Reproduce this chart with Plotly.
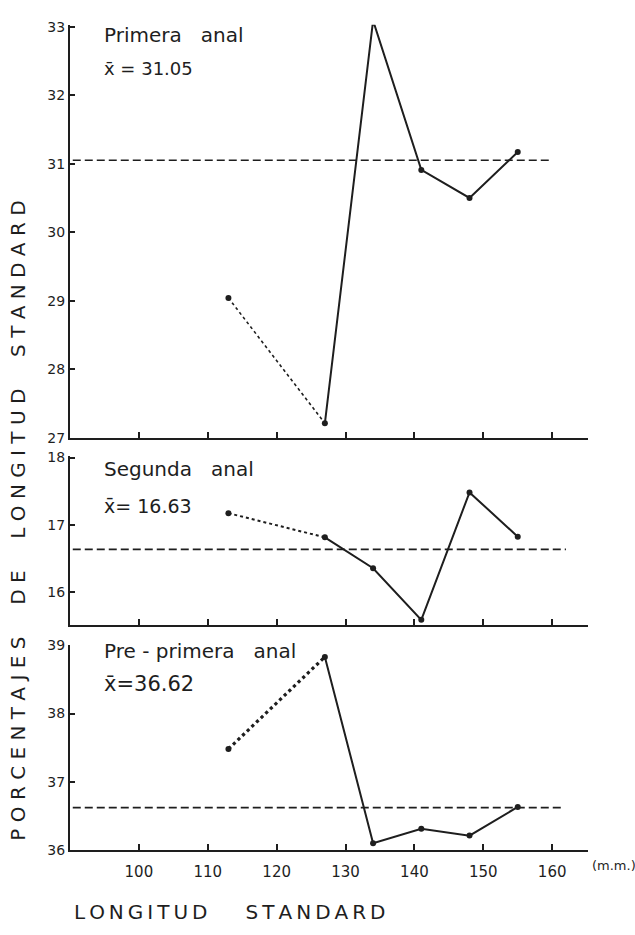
import plotly.graph_objects as go

# Longitud standard (mm) de cada clase de talla
talla = [113, 127, 134, 141, 148, 155]

# Porcentajes de longitud standard por posición de la aleta
primera_anal = [29.04, 27.21, 33.09, 30.91, 30.50, 31.17]
segunda_anal = [17.17, 16.81, 16.35, 15.58, 17.48, 16.82]
pre_primera_anal = [37.48, 38.83, 36.10, 36.31, 36.21, 36.63]

medias = [31.05, 16.63, 36.62]
titulos = ["Primera   anal", "Segunda   anal", "Pre - primera   anal"]
textos_media = ["x̄ = 31.05", "x̄= 16.63", "x̄=36.62"]

ticks_x = [100, 110, 120, 130, 140, 150, 160]
ticks_y = [[27, 28, 29, 30, 31, 32, 33], [16, 17, 18], [36, 37, 38, 39]]

W, H = 635, 935
FONT = "DejaVu Sans"
INK = "#1e1e1e"

# panel geometry in pixels: (top, bottom) of each plotting area
paneles = [(18, 437.7), (456.5, 628.3), (648, 856.7)]
rangos_y = [[27, 33.03], [15.5, 18.02], [36, 39.01]]
fin_media = [160, 162, 161.5]
x_izq, x_der = 70, 588
y_titulo = [28, 470, 655]
y_media = [62, 507, 688]
tam_media = [18, 19, 21]


def px_x(x):
    return x / W


def px_y(y):
    return 1 - y / H


def espaciar(texto, sep=" ", sep_palabra="     "):
    return sep_palabra.join(sep.join(p) for p in texto.split())


series = [primera_anal, segunda_anal, pre_primera_anal]
ancho_punteado = [1.6, 2.0, 3.2]

fig = go.Figure()
layout = dict(
    width=W, height=H,
    margin=dict(l=0, r=0, t=0, b=0),
    paper_bgcolor="white", plot_bgcolor="white",
    showlegend=False,
    font=dict(family=FONT, color=INK),
)

annotations = []
for i, (vals, media) in enumerate(zip(series, medias)):
    n = "" if i == 0 else str(i + 1)
    xa, ya = "x" + n, "y" + n
    top, bot = paneles[i]
    layout["xaxis" + n] = dict(
        domain=[px_x(x_izq), px_x(x_der)], range=[90, 165.2], anchor=ya,
        tickvals=ticks_x, ticktext=[str(v) for v in ticks_x],
        showticklabels=(i == 2), ticks="inside", ticklen=6, tickwidth=1.5,
        tickcolor=INK, showline=True, linecolor=INK, linewidth=2,
        showgrid=False, zeroline=False, ticklabelstandoff=7,
        tickfont=dict(size=15, family=FONT, color=INK),
    )
    layout["yaxis" + n] = dict(
        domain=[px_y(bot), px_y(top)], range=rangos_y[i], anchor=xa,
        tickvals=ticks_y[i], ticks="inside", ticklen=5, tickwidth=1.5,
        tickcolor=INK, showline=True, linecolor=INK, linewidth=2,
        showgrid=False, zeroline=False,
        tickfont=dict(size=14, family=FONT, color=INK),
    )
    # mean line
    fig.add_trace(go.Scatter(
        x=[90.4, fin_media[i]], y=[media, media], mode="lines",
        line=dict(color=INK, width=1.6, dash="8px,4px"),
        xaxis=xa, yaxis=ya, hoverinfo="skip"))
    # first interval drawn dotted
    fig.add_trace(go.Scatter(
        x=talla[:2], y=vals[:2], mode="lines",
        line=dict(color=INK, width=ancho_punteado[i], dash="dot"),
        xaxis=xa, yaxis=ya))
    # remaining intervals solid
    fig.add_trace(go.Scatter(
        x=talla[1:], y=vals[1:], mode="lines",
        line=dict(color=INK, width=2),
        xaxis=xa, yaxis=ya))
    fig.add_trace(go.Scatter(
        x=talla, y=vals, mode="markers", cliponaxis=False,
        marker=dict(color=INK, size=6),
        xaxis=xa, yaxis=ya))

    annotations.append(dict(
        text=titulos[i], xref="paper", yref="paper",
        x=px_x(102), y=px_y(y_titulo[i]), xanchor="left", yanchor="middle",
        showarrow=False, font=dict(size=20, family=FONT, color=INK)))
    annotations.append(dict(
        text=textos_media[i], xref="paper", yref="paper",
        x=px_x(102), y=px_y(y_media[i]), xanchor="left", yanchor="middle",
        showarrow=False, font=dict(size=tam_media[i], family=FONT, color=INK)))

annotations.append(dict(
    text="(m.m.)", xref="paper", yref="paper",
    x=px_x(590), y=px_y(873), xanchor="left", yanchor="middle",
    showarrow=False, font=dict(size=13, family=FONT, color=INK)))

annotations.append(dict(
    text=espaciar("PORCENTAJES DE LONGITUD STANDARD"),
    xref="paper", yref="paper", x=px_x(18), y=px_y(522),
    xanchor="center", yanchor="middle", textangle=-90, showarrow=False,
    font=dict(size=20, family=FONT, color=INK)))

annotations.append(dict(
    text=espaciar("LONGITUD STANDARD", sep="\u2009", sep_palabra="      "),
    xref="paper", yref="paper", x=px_x(72), y=px_y(920),
    xanchor="left", yanchor="middle", showarrow=False,
    font=dict(size=20, family=FONT, color=INK)))

layout["annotations"] = annotations
fig.update_layout(**layout)
fig.write_html("out.html")
